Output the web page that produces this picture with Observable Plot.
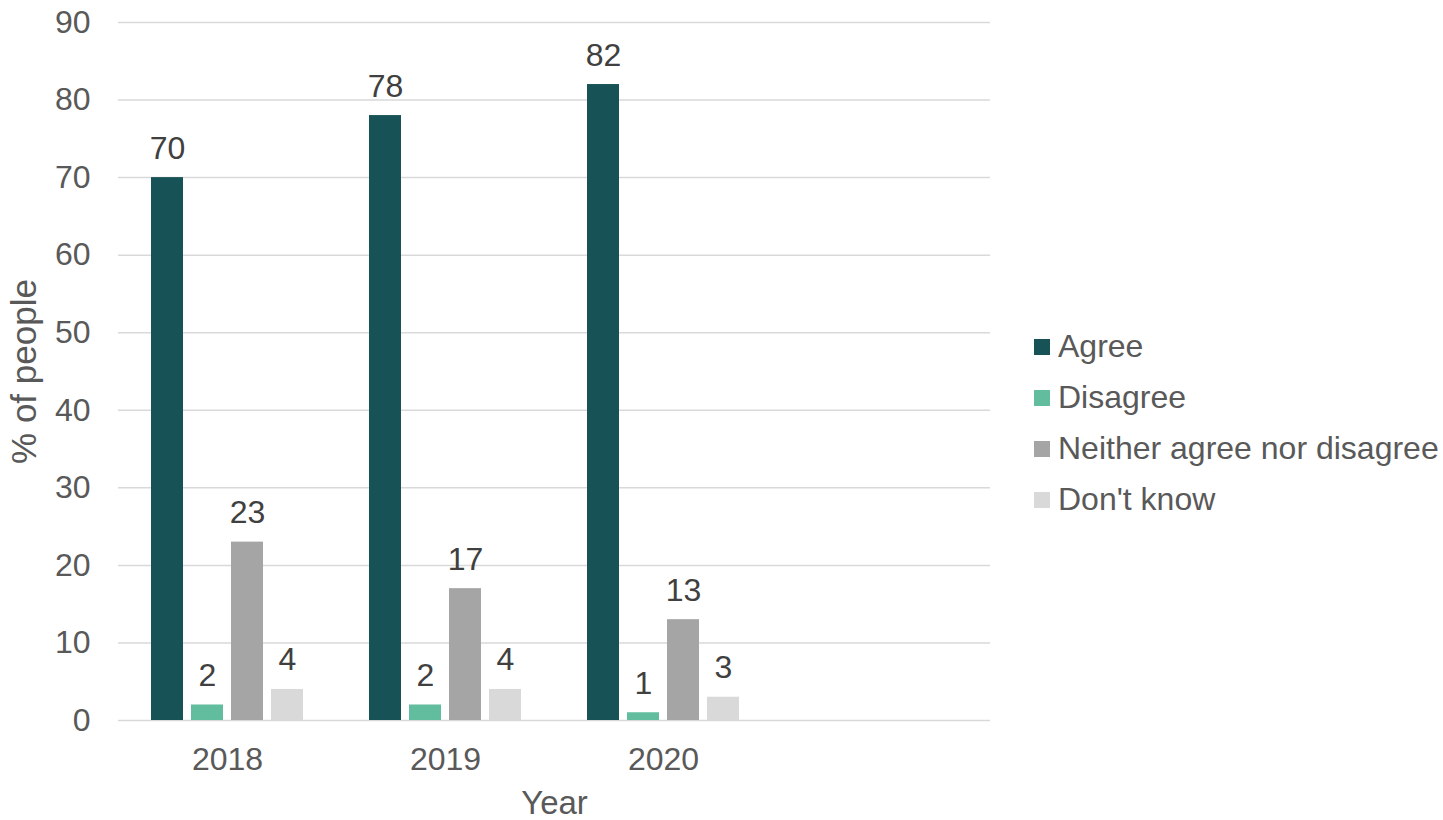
<!DOCTYPE html>
<html>
<head>
<meta charset="utf-8">
<script src="https://cdn.jsdelivr.net/npm/d3@7"></script>
<script src="https://cdn.jsdelivr.net/npm/@observablehq/plot@0.6"></script>
<style>
  html, body { margin: 0; padding: 0; background: #fff; }
  #wrap { position: relative; width: 1443px; height: 820px; font-family: "Liberation Sans", Arial, sans-serif; }
  #legend { position: absolute; left: 1034px; top: 321px; }
  .item { display: flex; align-items: center; height: 51px; font-size: 32px; color: #595959; white-space: nowrap; }
  .sw { width: 16px; height: 16px; margin-right: 8px; }
</style>
</head>
<body>
<div id="wrap"><div id="chart"></div><div id="legend"></div></div>
<script>
const years = ["2018", "2019", "2020"];
const blankSlot = " ";
const responses = ["Agree", "Disagree", "Neither agree nor disagree", "Don't know"];
const agree = [70, 78, 82];
const disagree = [2, 2, 1];
const neither = [23, 17, 13];
const dontKnow = [4, 4, 3];
const colors = ["#175256", "#62bd9e", "#a5a5a5", "#d9d9d9"];
const yTicks = [0, 10, 20, 30, 40, 50, 60, 70, 80, 90];

const series = [agree, disagree, neither, dontKnow];
const data = [];
years.forEach((yr, i) => responses.forEach((r, j) => data.push({year: yr, response: r, value: series[j][i]})));

const slots = [...years, blankSlot];
const grid = [];
slots.forEach(s => yTicks.forEach(t => grid.push({year: s, y: t})));

const plot = Plot.plot({
  width: 1443,
  height: 820,
  marginTop: 22,
  marginBottom: 100,
  marginLeft: 117,
  marginRight: 453,
  style: {fontFamily: '"Liberation Sans", Arial, sans-serif', fontSize: "32px", background: "#fff"},
  fx: {domain: slots, padding: 0, label: "Year", labelAnchor: "center", labelOffset: 93, tickSize: 0, tickPadding: 27, tickFormat: d => d.trim()},
  x: {domain: responses, paddingInner: 0.2, paddingOuter: 0.825, axis: null},
  y: {domain: [0, 90], ticks: yTicks, label: "% of people", labelAnchor: "center", labelArrow: "none", labelOffset: 107, tickSize: 0, tickPadding: 28},
  color: {domain: responses, range: colors},
  marks: [
    Plot.ruleY(grid, {fx: "year", y: "y", stroke: "#d9d9d9", strokeWidth: 1.5}),
    Plot.barY(data, {fx: "year", x: "response", y: "value", fill: "response"}),
    Plot.text(data, {fx: "year", x: "response", y: "value", text: d => String(d.value), lineAnchor: "bottom", dy: -19, fill: "#404040", fontSize: 32})
  ]
});
plot.querySelectorAll('g[aria-label$="axis tick label"], g[aria-label$="axis label"]').forEach(g => g.setAttribute("fill", "#595959"));
plot.querySelectorAll('g[aria-label="fx-axis label"]').forEach(g => g.setAttribute("font-size", "33"));
plot.querySelectorAll('g[aria-label="y-axis label"]').forEach(g => g.setAttribute("font-size", "35"));
document.getElementById("chart").appendChild(plot);

const legend = document.getElementById("legend");
responses.forEach((r, i) => {
  const it = document.createElement("div");
  it.className = "item";
  const sw = document.createElement("div");
  sw.className = "sw";
  sw.style.background = colors[i];
  const tx = document.createElement("span");
  tx.textContent = r;
  it.appendChild(sw);
  it.appendChild(tx);
  legend.appendChild(it);
});
</script>
</body>
</html>
